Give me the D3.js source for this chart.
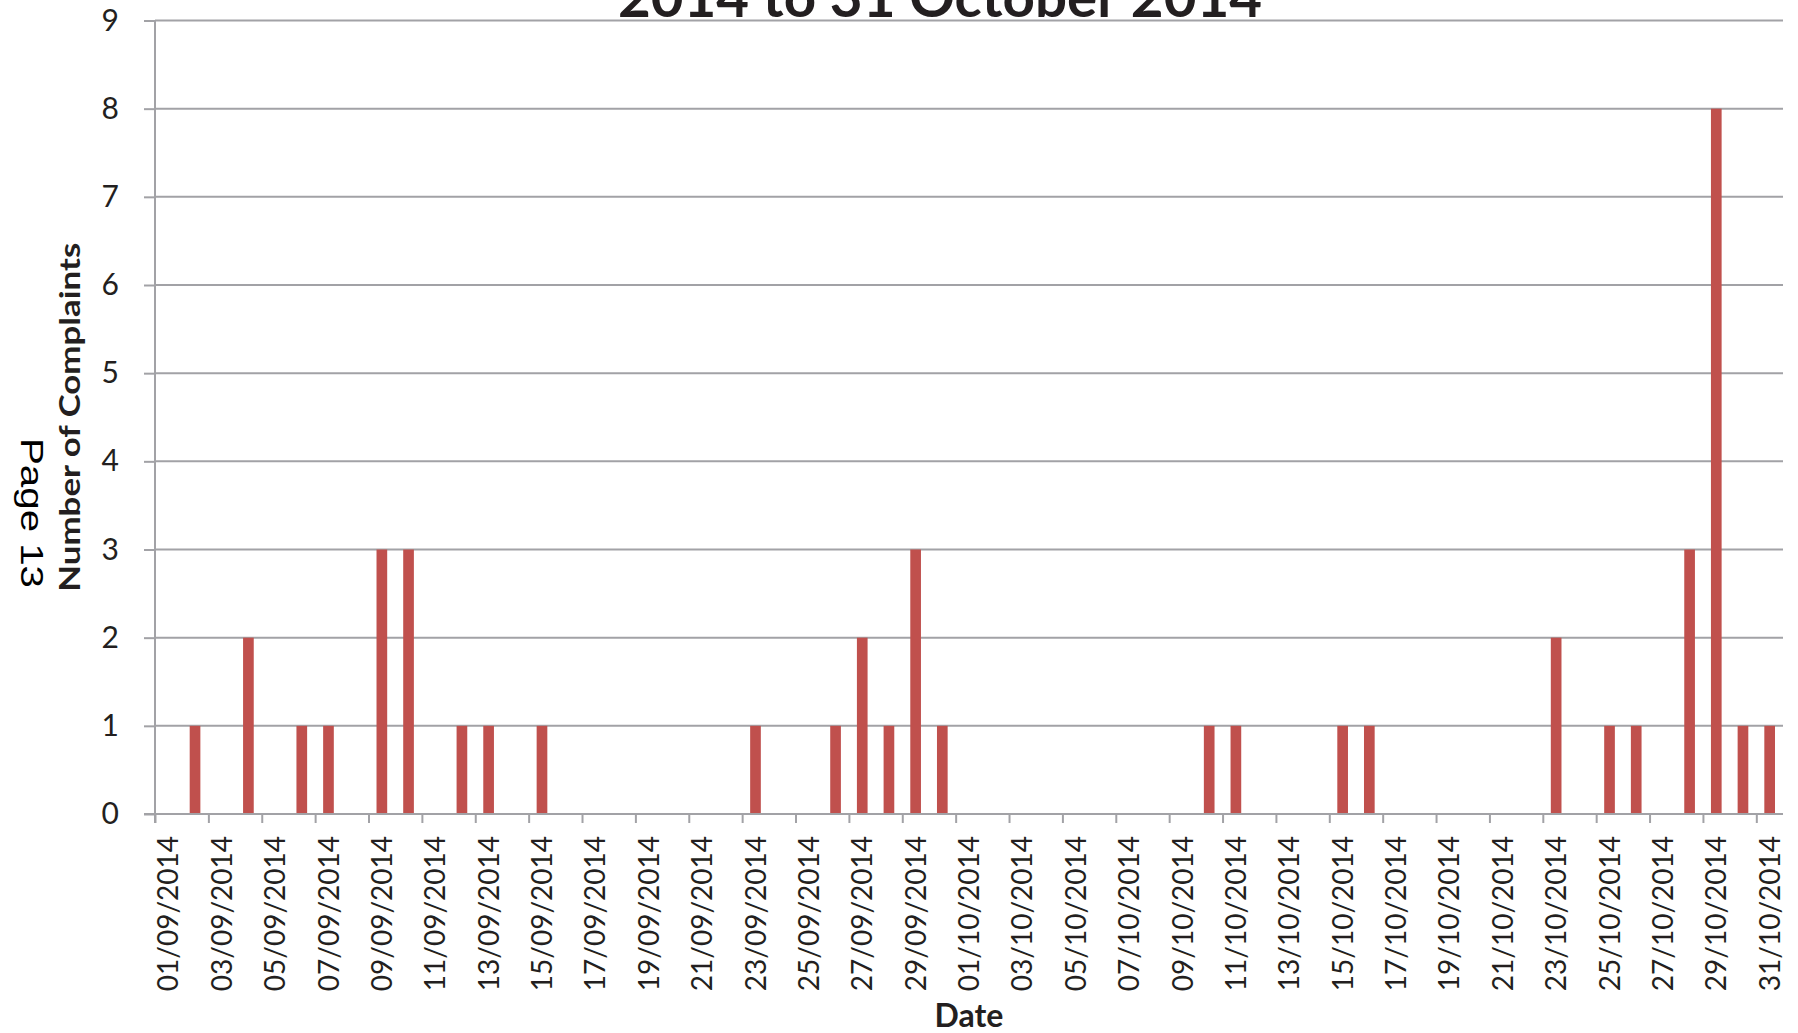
<!DOCTYPE html>
<html>
<head>
<meta charset="utf-8">
<script src="https://cdn.jsdelivr.net/npm/d3@7"></script>
<style>
  html, body { margin: 0; padding: 0; background: #ffffff; }
  svg { display: block; }
</style>
</head>
<body>
<svg id="chart" width="1798" height="1033"></svg>
<script>
// ---- Data ----
const dates = [
  "01/09/2014","02/09/2014","03/09/2014","04/09/2014","05/09/2014","06/09/2014","07/09/2014","08/09/2014","09/09/2014","10/09/2014",
  "11/09/2014","12/09/2014","13/09/2014","14/09/2014","15/09/2014","16/09/2014","17/09/2014","18/09/2014","19/09/2014","20/09/2014",
  "21/09/2014","22/09/2014","23/09/2014","24/09/2014","25/09/2014","26/09/2014","27/09/2014","28/09/2014","29/09/2014","30/09/2014",
  "01/10/2014","02/10/2014","03/10/2014","04/10/2014","05/10/2014","06/10/2014","07/10/2014","08/10/2014","09/10/2014","10/10/2014",
  "11/10/2014","12/10/2014","13/10/2014","14/10/2014","15/10/2014","16/10/2014","17/10/2014","18/10/2014","19/10/2014","20/10/2014",
  "21/10/2014","22/10/2014","23/10/2014","24/10/2014","25/10/2014","26/10/2014","27/10/2014","28/10/2014","29/10/2014","30/10/2014",
  "31/10/2014"
];
const complaints = [
  0,1,0,2,0,1,1,0,3,3, 0,1,1,0,1,0,0,0,0,0, 0,0,1,0,0,1,2,1,3,1,
  0,0,0,0,0,0,0,0,0,1, 1,0,0,0,1,1,0,0,0,0, 0,0,2,0,1,1,0,3,8,1,
  1
];
const yTicks = [0,1,2,3,4,5,6,7,8,9];
const titleText = "2014 to 31 October 2014";
const yTitle = "Number of Complaints";
const xTitle = "Date";
const pageText = "Page 13";

// ---- Layout ----
const plotLeft = 155, plotRight = 1783, plotTop = 20.5, plotBottom = 814;
const textColor = "#231f20";
const gridColor = "#a2a2a6";
const barColor = "#c0504d";

const svg = d3.select("#chart");
svg.append("rect").attr("width", 1798).attr("height", 1033).attr("fill", "#fff");

const x = d3.scaleBand().domain(dates).range([plotLeft, plotRight]).paddingInner(0.6).paddingOuter(0.3);
const xIdx = d3.scaleLinear().domain([0, dates.length]).range([plotLeft, plotRight]);
const y = d3.scaleLinear().domain([0, 9]).range([plotBottom, plotTop]);

// Gridlines
svg.append("g").selectAll("line").data(yTicks.filter(d => d > 0)).join("line")
  .attr("x1", plotLeft).attr("x2", plotRight)
  .attr("y1", d => y(d)).attr("y2", d => y(d))
  .attr("stroke", gridColor).attr("stroke-width", 2);

// Bars
svg.append("g").selectAll("rect").data(dates.map((d, i) => ({d, v: complaints[i]})).filter(o => o.v > 0)).join("rect")
  .attr("x", o => x(o.d)).attr("width", x.bandwidth())
  .attr("y", o => y(o.v)).attr("height", o => y(0) - y(o.v))
  .attr("fill", barColor);

// Y axis
const yAxis = svg.append("g").attr("transform", `translate(${plotLeft},0)`)
  .call(d3.axisLeft(y).tickValues(yTicks).tickSize(11).tickPadding(25).tickFormat(d3.format("d")));
yAxis.select(".domain").remove();
yAxis.selectAll(".tick line").attr("stroke", gridColor).attr("stroke-width", 2);
yAxis.selectAll(".tick text").attr("fill", textColor)
  .style("font-family", "Lato, 'Open Sans', sans-serif").style("font-size", "30px");
svg.append("line").attr("x1", plotLeft).attr("x2", plotLeft).attr("y1", plotTop).attr("y2", plotBottom + 9)
  .attr("stroke", gridColor).attr("stroke-width", 2);

// X axis (ticks at category boundaries)
const tickIdx = d3.range(0, dates.length, 2);
const xTickAxis = svg.append("g").attr("transform", `translate(0,${plotBottom})`)
  .call(d3.axisBottom(xIdx).tickValues(tickIdx).tickSize(9).tickFormat(""));
xTickAxis.select(".domain").remove();
xTickAxis.selectAll(".tick line").attr("stroke", gridColor).attr("stroke-width", 2);
svg.append("line").attr("x1", plotLeft - 11).attr("x2", plotRight).attr("y1", plotBottom).attr("y2", plotBottom)
  .attr("stroke", gridColor).attr("stroke-width", 2);

// X labels (centered on categories)
const xLabelAxis = svg.append("g").attr("transform", `translate(0,${plotBottom})`)
  .call(d3.axisBottom(x).tickValues(dates.filter((d, i) => i % 2 === 0)).tickSize(0).tickPadding(0));
xLabelAxis.select(".domain").remove();
xLabelAxis.selectAll(".tick text")
  .attr("fill", textColor)
  .style("font-family", "Lato, 'Open Sans', sans-serif").style("font-size", "28px")
  .attr("text-anchor", "end")
  .attr("transform", "translate(0,22) rotate(-90)")
  .attr("x", 0).attr("y", 0).attr("dy", "0.36em");

// Title (partially cut off at the top, as in the source)
svg.append("text").attr("x", 618).attr("y", 17)
  .attr("textLength", 644).attr("lengthAdjust", "spacingAndGlyphs")
  .attr("fill", textColor)
  .style("font-family", "Lato, 'Open Sans', sans-serif").style("font-weight", "bold").style("font-size", "56px")
  .text(titleText);

// Y title
svg.append("text")
  .attr("transform", `translate(80,${(plotTop + plotBottom) / 2}) rotate(-90)`)
  .attr("text-anchor", "middle")
  .attr("textLength", 349).attr("lengthAdjust", "spacingAndGlyphs")
  .attr("fill", textColor)
  .style("font-family", "Lato, 'Open Sans', sans-serif").style("font-weight", "bold").style("font-size", "29px")
  .text(yTitle);

// X title
svg.append("text").attr("x", (plotLeft + plotRight) / 2).attr("y", 1027)
  .attr("text-anchor", "middle").attr("fill", textColor)
  .style("font-family", "Lato, 'Open Sans', sans-serif").style("font-weight", "bold").style("font-size", "32px")
  .text(xTitle);

// Page marker
svg.append("text")
  .attr("transform", `translate(21,513) rotate(90)`)
  .attr("text-anchor", "middle")
  .attr("textLength", 150).attr("lengthAdjust", "spacingAndGlyphs")
  .attr("fill", "#000")
  .style("font-family", "'Liberation Sans', Arial, sans-serif").style("font-size", "31px")
  .text(pageText);
</script>
</body>
</html>
